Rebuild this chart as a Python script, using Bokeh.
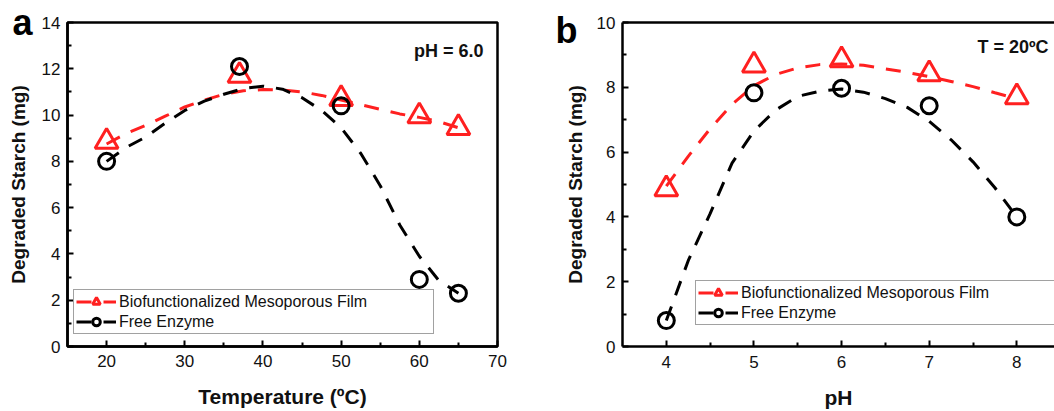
from bokeh.plotting import figure
from bokeh.models import (FixedTicker, Legend, LegendItem, Label, LinearAxis, Range1d,
                          CustomJSTickFormatter)
from bokeh.layouts import row
from bokeh.embed import file_html
from bokeh.resources import INLINE

# ---------------- data ----------------
temp_points = [20, 37, 50, 60, 65]
film_temp = [8.85, 11.7, 10.7, 9.95, 9.45]
free_temp = [8.0, 12.1, 10.4, 2.9, 2.3]

temp_fit_x = [20, 22.5, 25, 27.5, 30, 32.5, 35, 37.5, 40, 42.5, 45, 47.5, 50, 52.5, 55, 57.5, 60, 62.5, 65]
film_temp_fit = [8.75, 9.2, 9.55, 9.95, 10.35, 10.65, 10.9, 11.05, 11.1, 11.08, 11.0, 10.85, 10.65, 10.45, 10.25, 10.05, 9.9, 9.72, 9.45]
free_temp_fit = [8.0, 8.6, 9.05, 9.65, 10.2, 10.6, 10.9, 11.15, 11.25, 11.12, 10.75, 10.2, 9.45, 8.35, 6.95, 5.25, 3.9, 2.85, 2.3]

ph_points = [4, 5, 6, 7, 8]
film_ph = [4.86, 8.68, 8.84, 8.41, 7.7]
free_ph = [0.8, 7.83, 7.97, 7.43, 4.0]

ph_fit_x = [4, 4.25, 4.5, 4.75, 5, 5.25, 5.5, 5.75, 6, 6.25, 6.5, 6.75, 7, 7.25, 7.5, 7.75, 8]
film_ph_fit = [4.95, 5.87, 6.72, 7.47, 8.05, 8.4, 8.6, 8.7, 8.72, 8.68, 8.57, 8.46, 8.33, 8.18, 8.02, 7.83, 7.65]
free_ph_fit = [0.8, 2.65, 4.1, 5.66, 6.65, 7.3, 7.72, 7.88, 7.95, 7.85, 7.65, 7.38, 6.95, 6.38, 5.7, 4.9, 4.0]

temp_ticks = [20, 30, 40, 50, 60, 70]
temp_minor = [25, 35, 45, 55, 65]
starch_ticks_a = [0, 2, 4, 6, 8, 10, 12, 14]
starch_minor_a = [1, 3, 5, 7, 9, 11, 13]
ph_ticks = [4, 5, 6, 7, 8]
ph_minor = [4.5, 5.5, 6.5, 7.5]
starch_ticks_b = [0, 2, 4, 6, 8, 10]
starch_minor_b = [1, 3, 5, 7, 9]

series_names = ["Biofunctionalized Mesoporous Film", "Free Enzyme"]
y_title = "Degraded Starch (mg)"

RED = "#ff2020"
BLACK = "#000000"
FONT = "Liberation Sans"


def style_axis(ax, label, label_size, label_standoff, tick_standoff):
    ax.axis_label = label
    ax.axis_label_text_font = FONT
    ax.axis_label_text_font_style = "bold"
    ax.axis_label_text_font_size = label_size
    ax.axis_label_text_color = "#111111"
    ax.axis_label_standoff = label_standoff
    ax.major_label_text_font = FONT
    ax.major_label_text_font_size = "17px"
    ax.major_label_text_color = "#111111"
    ax.major_label_standoff = tick_standoff
    ax.axis_line_width = 2.5
    ax.axis_line_color = BLACK
    ax.major_tick_in = 6
    ax.major_tick_out = 0
    ax.minor_tick_in = 4
    ax.minor_tick_out = 0
    ax.major_tick_line_width = 2
    ax.minor_tick_line_width = 2


def make_panel(width, borders, xr, yr, xticks, xminor, yticks, yminor,
               fit_x, film_fit, free_fit, px, film_pts, free_pts,
               xlabel, xl_standoff, xt_standoff, yt_standoff,
               letter, letter_at, letter_standoff, ylabel_standoff,
               legend_loc, legend_label_width, note, note_pos, full_outline):
    left, right, top, bottom = borders
    p = figure(width=width, height=411, x_range=Range1d(*xr), y_range=Range1d(*yr),
               output_backend="svg", toolbar_location=None,
               min_border_left=left, min_border_right=right,
               min_border_top=top, min_border_bottom=bottom)
    p.grid.visible = False
    p.background_fill_color = "white"
    p.border_fill_color = "white"

    x_ax = p.below[0]
    y_ax = p.left[0]
    x_ax.ticker = FixedTicker(ticks=xticks, minor_ticks=xminor)
    y_ax.ticker = FixedTicker(ticks=yticks, minor_ticks=yminor)
    style_axis(x_ax, xlabel, "21px", xl_standoff, xt_standoff)
    style_axis(y_ax, "", "19px", 0, yt_standoff)
    y_ax.axis_label = None

    # outer left axis: carries the panel letter (as its only tick label) and the y title
    outer = LinearAxis(ticker=FixedTicker(ticks=[letter_at]),
                       formatter=CustomJSTickFormatter(code="return '%s';" % letter),
                       axis_line_color=None, major_tick_line_color=None,
                       minor_tick_line_color=None,
                       major_tick_in=0, major_tick_out=0, minor_tick_in=0, minor_tick_out=0,
                       major_label_orientation="horizontal",
                       major_label_text_font=FONT, major_label_text_font_style="bold",
                       major_label_text_font_size="36px", major_label_text_color=BLACK,
                       major_label_standoff=letter_standoff,
                       axis_label=y_title, axis_label_text_font=FONT,
                       axis_label_text_font_style="bold", axis_label_text_font_size="19px",
                       axis_label_text_color="#111111", axis_label_standoff=ylabel_standoff)
    p.add_layout(outer, "left")

    if full_outline:
        p.outline_line_color = BLACK
        p.outline_line_width = 2.5
    else:
        p.outline_line_color = None
        top_ax = LinearAxis(ticker=FixedTicker(ticks=[]), major_tick_in=0, major_tick_out=0,
                            minor_tick_in=0, minor_tick_out=0, axis_line_width=2.5,
                            axis_line_color=BLACK, major_label_standoff=0)
        p.add_layout(top_ax, "above")

    dash = "15 12"
    r_line = p.line(fit_x, film_fit, line_color=RED, line_width=3, line_dash=dash)
    k_line = p.line(fit_x, free_fit, line_color=BLACK, line_width=3, line_dash=dash)
    r_pts = p.scatter(px, film_pts, marker="triangle", size=23, fill_color=None,
                      line_color=RED, line_width=3)
    k_pts = p.scatter(px, free_pts, marker="circle", size=16, fill_color=None,
                      line_color=BLACK, line_width=3)

    legend = Legend(items=[LegendItem(label=series_names[0], renderers=[r_line, r_pts]),
                           LegendItem(label=series_names[1], renderers=[k_line, k_pts])],
                    location=legend_loc, orientation="vertical",
                    label_text_font=FONT, label_text_font_size="16px",
                    label_text_color="#111111",
                    label_width=legend_label_width, label_height=19,
                    glyph_width=40, glyph_height=19, spacing=1, padding=2,
                    label_standoff=3, margin=0,
                    border_line_color="#444444", border_line_width=1,
                    background_fill_color="white", background_fill_alpha=1.0)
    p.add_layout(legend, "center")

    p.add_layout(Label(x=note_pos[0], y=note_pos[1], x_units="screen", y_units="screen",
                       text=note, text_font=FONT, text_font_style="bold",
                       text_font_size="18px", text_color="#111111",
                       text_align="right", text_baseline="alphabetic"))
    return p


pa = make_panel(530, (67, 33, 21, 65), (15, 70), (0, 14),
                temp_ticks, temp_minor, starch_ticks_a, starch_minor_a,
                temp_fit_x, film_temp_fit, free_temp_fit,
                temp_points, film_temp, free_temp,
                "Temperature (ºC)", 15, 8, 7,
                "a", 14, 6, -20,
                (6, 12), 312, "pH = 6.0", (416, 296), True)

pb = make_panel(524, (92, 0, 22, 62), (3.5, 8.43), (0, 10),
                ph_ticks, ph_minor, starch_ticks_b, starch_minor_b,
                ph_fit_x, film_ph_fit, free_ph_fit,
                ph_points, film_ph, free_ph,
                "pH", 15, 9, 7,
                "b", 9.74, 16, -33,
                (73, 21), 420, "T = 20ºC", (426, 300), False)

layout = row(pa, pb, spacing=0)
open("out.html", "w").write(file_html(layout, INLINE))
